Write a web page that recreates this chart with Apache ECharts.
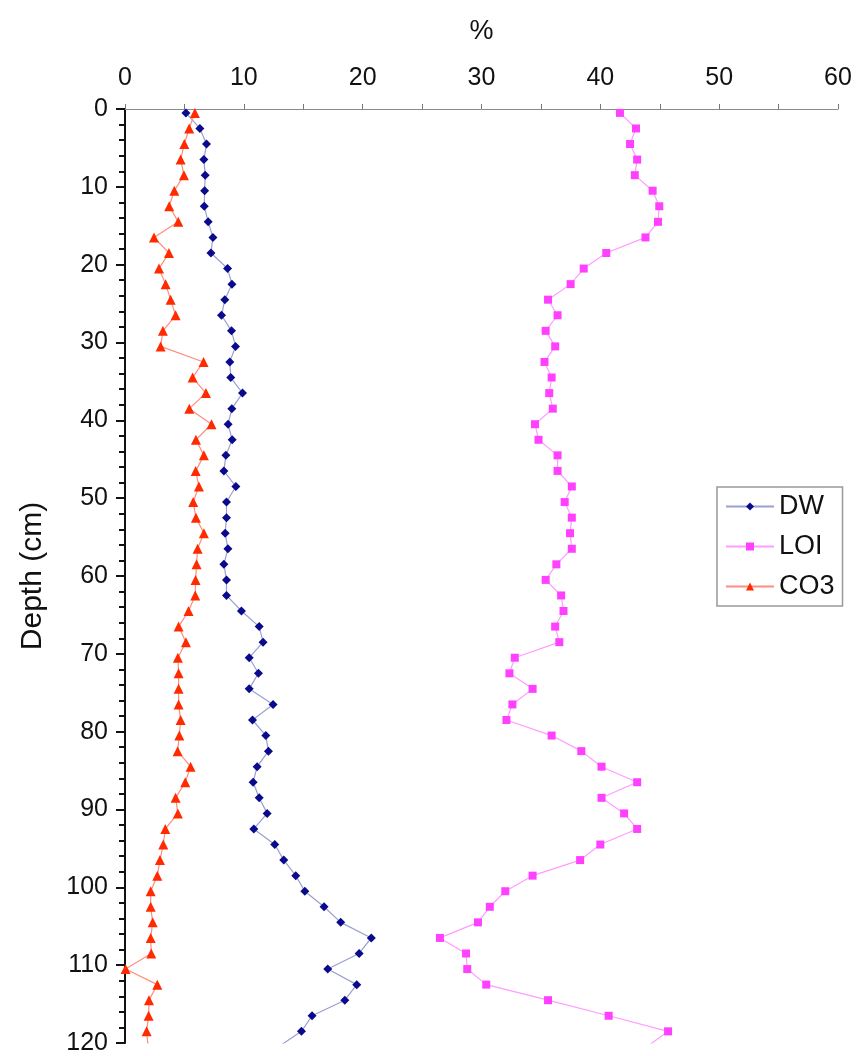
<!DOCTYPE html>
<html>
<head>
<meta charset="utf-8">
<script src="https://cdn.jsdelivr.net/npm/echarts@6/dist/echarts.min.js"></script>
<style>
html,body{margin:0;padding:0;background:#fff;}
#chart{width:856px;height:1056px;}
</style>
</head>
<body>
<div id="chart"></div>
<script>
// Sample depths (cm): midpoints of 2 cm slices; last one lies just below the plotted range
const depths = [0.5,2.5,4.5,6.5,8.5,10.5,12.5,14.5,16.5,18.5,20.5,22.5,24.5,26.5,28.5,30.5,32.5,34.5,36.5,38.5,
  40.5,42.5,44.5,46.5,48.5,50.5,52.5,54.5,56.5,58.5,60.5,62.5,64.5,66.5,68.5,70.5,72.5,74.5,76.5,78.5,
  80.5,82.5,84.5,86.5,88.5,90.5,92.5,94.5,96.5,98.5,100.5,102.5,104.5,106.5,108.5,110.5,112.5,114.5,116.5,118.5,120.5];

const dwValues = [5.13,6.3,6.86,6.64,6.75,6.7,6.67,7.0,7.4,7.23,8.63,9.0,8.4,8.12,8.96,9.3,8.82,8.9,9.89,8.99,
  8.68,9.02,8.49,8.32,9.33,8.54,8.54,8.43,8.66,8.32,8.54,8.54,9.8,11.29,11.62,10.45,11.23,10.45,12.46,10.73,
  11.85,12.07,11.12,10.78,11.29,11.96,10.84,12.6,13.36,14.37,15.13,16.75,18.15,20.73,19.7,17.06,19.5,18.5,15.74,14.85,12.9];

const loiValues = [41.65,43.0,42.5,43.1,42.9,44.4,44.96,44.85,43.8,40.5,38.6,37.5,35.6,36.4,35.4,36.2,35.3,35.9,35.7,36.0,
  34.5,34.8,36.4,36.4,37.6,37.0,37.6,37.45,37.6,36.3,35.4,36.7,36.9,36.2,36.55,32.8,32.35,34.3,32.6,32.1,
  35.9,38.4,40.1,43.1,40.1,42.0,43.1,40.0,38.3,34.3,32.0,30.7,29.7,26.5,28.7,28.8,30.4,35.6,40.7,45.7,43.9];

const co3Values = [5.88,5.4,4.99,4.68,4.96,4.15,3.72,4.48,2.44,3.7,2.86,3.42,3.84,4.26,3.19,3.0,6.61,5.69,6.81,5.41,
  7.28,5.97,6.64,5.95,6.22,5.74,5.97,6.64,6.11,6.02,5.94,5.91,5.35,4.51,5.13,4.45,4.51,4.51,4.51,4.68,
  4.57,4.43,5.52,5.07,4.26,4.45,3.39,3.22,2.94,2.72,2.16,2.16,2.33,2.16,2.21,0.05,2.72,2.02,1.99,1.82,1.95];

const seriesNames = ['DW','LOI','CO3'];
const xTitle = '%';
const yTitle = 'Depth (cm)';

function pairs(vals){ return vals.map((v,i)=>[v, depths[i]]); }

const FONT = '"Liberation Sans", Arial, sans-serif';
const chart = echarts.init(document.getElementById('chart'), null, {renderer:'canvas'});
chart.setOption({
  backgroundColor:'#ffffff',
  animation:false,
  grid:{left:125, top:109, width:713, height:934, containLabel:false},
  xAxis:{
    type:'value', position:'top', min:0, max:60, interval:10,
    name:xTitle, nameLocation:'middle', nameGap:64,
    nameTextStyle:{fontFamily:FONT, fontSize:27, color:'#111'},
    axisLine:{show:true, lineStyle:{color:'#8a8a8a', width:1}},
    axisTick:{show:true, inside:false, length:5, lineStyle:{color:'#777', width:1}},
    minorTick:{show:true, splitNumber:2, length:5, lineStyle:{color:'#777', width:1}},
    axisLabel:{fontFamily:FONT, fontSize:25, color:'#111', margin:18},
    splitLine:{show:false}
  },
  yAxis:{
    type:'value', inverse:true, min:0, max:120, interval:10,
    name:yTitle, nameLocation:'middle', nameGap:77,
    nameTextStyle:{fontFamily:FONT, fontSize:30, color:'#111'},
    axisLine:{show:true, onZero:false, lineStyle:{color:'#111', width:2}},
    axisTick:{show:true, length:9, lineStyle:{color:'#111', width:2}},
    minorTick:{show:true, splitNumber:5, length:6, lineStyle:{color:'#111', width:2}},
    axisLabel:{fontFamily:FONT, fontSize:25, color:'#111', margin:17},
    splitLine:{show:false}
  },
  legend:{
    orient:'vertical', left:717, top:487,
    padding:[6,8,6,8],
    itemGap:13, itemWidth:48, itemHeight:10,
    borderColor:'#999', borderWidth:1.5,
    backgroundColor:'#fff',
    textStyle:{fontFamily:FONT, fontSize:27, color:'#111', width:58, overflow:'none'},
    data:seriesNames
  },
  series:[
    {name:seriesNames[0], type:'line', data:pairs(dwValues), clip:true,
     symbol:'diamond', symbolSize:9,
     itemStyle:{color:'#0a0a8c'},
     lineStyle:{color:'#9aa0d0', width:1.2}},
    {name:seriesNames[1], type:'line', data:pairs(loiValues), clip:true,
     symbol:'rect', symbolSize:8,
     itemStyle:{color:'#ff40ff'},
     lineStyle:{color:'#ff9cff', width:1.2}},
    {name:seriesNames[2], type:'line', data:pairs(co3Values), clip:true,
     symbol:'triangle', symbolSize:10,
     itemStyle:{color:'#ff2a00'},
     lineStyle:{color:'#ff8c80', width:1.2}}
  ]
});
</script>
</body>
</html>
